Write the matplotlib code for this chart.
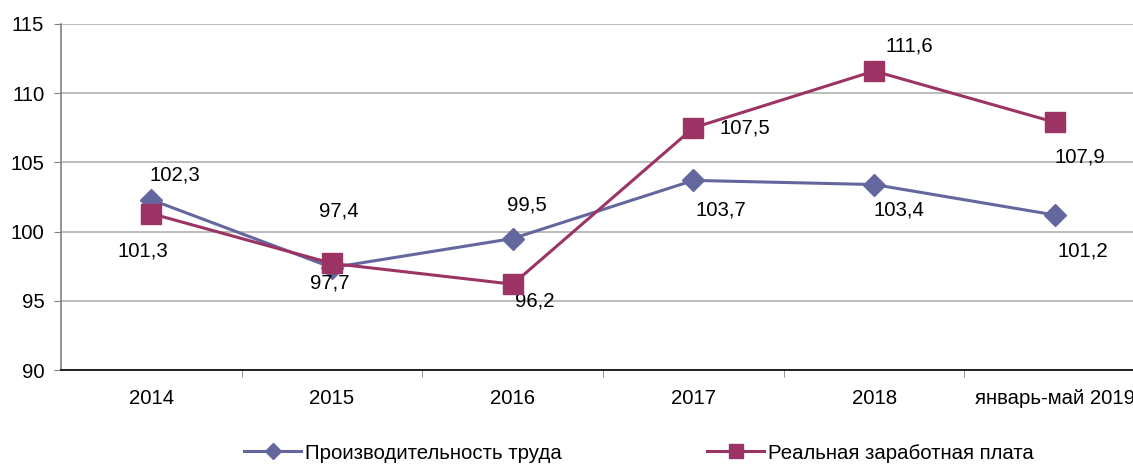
import matplotlib
matplotlib.use("Agg")
import matplotlib.pyplot as plt
from matplotlib.lines import Line2D

plt.rcParams['font.family'] = ['Liberation Sans', 'DejaVu Sans']

categories = ["2014", "2015", "2016", "2017", "2018", "январь-май 2019"]
productivity = [102.3, 97.4, 99.5, 103.7, 103.4, 101.2]
wages = [101.3, 97.7, 96.2, 107.5, 111.6, 107.9]
yticks = [90, 95, 100, 105, 110, 115]

c_prod = "#64669E"
c_wage = "#9B3464"
FS = 14.7

fig = plt.figure(figsize=(11.33, 4.65), dpi=100)
ax = fig.add_axes([61/1133, (465-370)/465, (6*180.7)/1133, (370-24)/465])

x = list(range(len(categories)))
ax.plot(x, productivity, color=c_prod, lw=2.2, marker="D", ms=11, zorder=3)
ax.plot(x, wages, color=c_wage, lw=2.2, marker="s", ms=15, zorder=4)

ax.set_xlim(-0.5, len(categories) - 0.5)
ax.set_ylim(90, 115)
ax.set_yticks(yticks)
ax.set_yticklabels([str(v) for v in yticks], fontsize=FS)
ax.set_xticks(x)
ax.set_xticklabels(categories, fontsize=FS)
ax.tick_params(axis="x", length=0, pad=14)
ax.tick_params(axis="y", length=5, color="#808080", pad=7)
ax.set_xticks([i + 0.5 for i in x[:-1]], minor=True)
ax.tick_params(axis="x", which="minor", length=5, color="#808080")
ax.grid(axis="y", color="#B0B0B0", lw=1.2)
ax.set_axisbelow(True)
for s in ["top", "right"]:
    ax.spines[s].set_visible(False)
ax.spines["left"].set_color("#808080")
ax.spines["left"].set_linewidth(1.2)
ax.spines["bottom"].set_color("#000000")
ax.spines["bottom"].set_linewidth(1.2)

# data labels (offsets in points)
prod_off = [(17, 18), (5, 41), (10, 24), (20, -21), (18, -18), (20, -26)]
wage_off = [(-6, -27), (-2, -14), (16, -12), (37, 0), (25, 18), (18, -25)]
for i, (v, o) in enumerate(zip(productivity, prod_off)):
    ax.annotate(f"{v:.1f}".replace(".", ","), (i, v), xytext=o, textcoords="offset points",
                ha="center", va="center", fontsize=FS)
for i, (v, o) in enumerate(zip(wages, wage_off)):
    ax.annotate(f"{v:.1f}".replace(".", ","), (i, v), xytext=o, textcoords="offset points",
                ha="center", va="center", fontsize=FS)

handles = [Line2D([], [], color=c_prod, lw=2.2, marker="D", ms=8),
           Line2D([], [], color=c_wage, lw=2.2, marker="s", ms=10)]
fig.legend(handles, ["Производительность труда", "Реальная заработная плата"],
           loc="center", bbox_to_anchor=(639/1133, 1 - 453/465), ncol=2, frameon=False,
           fontsize=FS, handlelength=2.8, handletextpad=0.2, columnspacing=7.1)

fig.savefig("out.png", dpi=100)
